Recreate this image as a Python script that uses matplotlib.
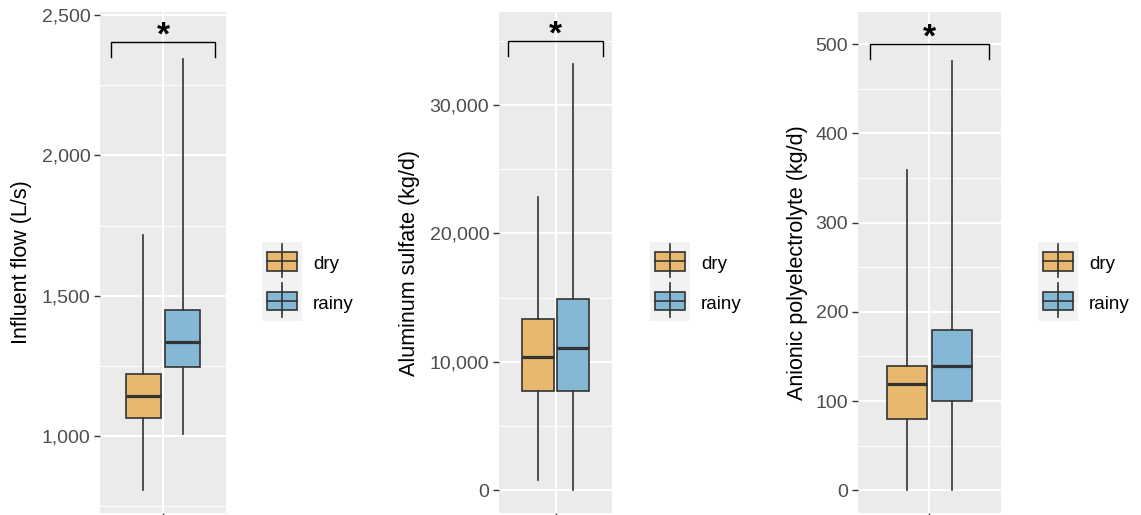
import matplotlib
matplotlib.use('Agg')
import matplotlib.pyplot as plt
from matplotlib.patches import Rectangle
from matplotlib.ticker import FuncFormatter, MultipleLocator, NullLocator

plt.rcParams['font.family'] = ['Liberation Sans', 'DejaVu Sans']

# ===== data =====
seasons = ['dry', 'rainy']
fill_colors = ['#E8B86E', '#85B8D5']

ylabels = ['Influent flow (L/s)', 'Aluminum sulfate (kg/d)',
           'Anionic polyelectrolyte (kg/d)']

# influent flow (L/s)
flow_whislo = [808, 1006]
flow_q1 = [1065, 1246]
flow_med = [1142, 1337]
flow_q3 = [1221, 1450]
flow_whishi = [1716, 2342]

# aluminum sulfate (kg/d)
alum_whislo = [800, 0]
alum_q1 = [7760, 7760]
alum_med = [10370, 11070]
alum_q3 = [13300, 14860]
alum_whishi = [22860, 33170]

# anionic polyelectrolyte (kg/d)
poly_whislo = [0, 0]
poly_q1 = [79.5, 100.3]
poly_med = [119, 139.6]
poly_q3 = [139.6, 179.5]
poly_whishi = [358.7, 480.6]

# significance bracket heights and label
bracket_y = [2405, 35010, 500]
sig_label = '*'

# ===== layout (pixels) =====
W, H = 1141, 515
def fx(px): return px / W
def fy(py): return 1 - py / H

panel_px = [(100, 226), (499, 612), (858, 1001)]
panel_top, panel_bot = 12, 513
ylims = [(726, 2511), (-1770, 37240), (-25.4, 535.9)]
major_step = [500, 10000, 100]
ylabel_x = [22, 409, 797]
key_left = [262, 650, 1038]

data = [
    (flow_whislo, flow_q1, flow_med, flow_q3, flow_whishi),
    (alum_whislo, alum_q1, alum_med, alum_q3, alum_whishi),
    (poly_whislo, poly_q1, poly_med, poly_q3, poly_whishi),
]

line_col = '#333333'
fig = plt.figure(figsize=(W / 100, H / 100), dpi=100)

for k in range(3):
    x0, x1 = panel_px[k]
    ax = fig.add_axes([fx(x0), fy(panel_bot), (x1 - x0) / W,
                       (panel_bot - panel_top) / H])
    ax.set_facecolor('#EBEBEB')
    for s in ax.spines.values():
        s.set_visible(False)

    wl, q1, md, q3, wh = data[k]
    stats = [dict(whislo=wl[i], q1=q1[i], med=md[i], q3=q3[i], whishi=wh[i],
                  label=seasons[i]) for i in range(len(seasons))]
    bp = ax.bxp(stats, positions=[1 - 0.1875, 1 + 0.1875], widths=0.3375,
                patch_artist=True, showcaps=False, showfliers=False,
                manage_ticks=False,
                boxprops=dict(edgecolor=line_col, linewidth=1.2),
                medianprops=dict(color=line_col, linewidth=2.3),
                whiskerprops=dict(color=line_col, linewidth=1.2))
    for patch, c in zip(bp['boxes'], fill_colors):
        patch.set_facecolor(c)

    ylo, yhi = ylims[k]
    ax.set_xlim(0.4, 1.6)
    ax.set_ylim(ylo, yhi)

    # significance bracket
    tip = bracket_y[k] - 0.03 * (yhi - ylo)
    ax.plot([0.5, 0.5, 1.5, 1.5], [tip, bracket_y[k], bracket_y[k], tip],
            color='black', lw=1.0, solid_joinstyle='miter')
    ax.annotate(sig_label, (1, bracket_y[k]), xytext=(0, -7),
                textcoords='offset points', ha='center', va='bottom',
                fontsize=24, fontweight='bold')

    # axes styling (ggplot grey)
    ax.yaxis.set_major_locator(MultipleLocator(major_step[k]))
    ax.yaxis.set_minor_locator(MultipleLocator(major_step[k] / 2))
    ax.yaxis.set_major_formatter(FuncFormatter(lambda v, p: f'{v:,.0f}'))
    ax.xaxis.set_minor_locator(NullLocator())
    ax.set_xticks([1])
    ax.set_xticklabels([''])
    ax.set_axisbelow(True)
    ax.grid(which='major', color='white', lw=1.4)
    ax.grid(which='minor', axis='y', color='white', lw=0.7)
    ax.tick_params(which='major', length=4, width=1, color=line_col,
                   labelcolor='#4D4D4D', labelsize=14, pad=3)
    ax.tick_params(which='minor', length=0)

    fig.text(fx(ylabel_x[k]), fy((panel_top + panel_bot) / 2), ylabels[k],
             rotation=90, ha='center', va='center', fontsize=15.5)

    # legend: grey key boxes with little boxplot glyphs
    kl = key_left[k]
    key_h = 39.5
    lax = fig.add_axes([fx(kl), fy(242 + 2 * key_h), 40 / W, 2 * key_h / H])
    lax.set_facecolor('#F2F2F2')
    for s in lax.spines.values():
        s.set_visible(False)
    lax.set_xticks([])
    lax.set_yticks([])
    lax.set_xlim(0, 40)
    lax.set_ylim(2 * key_h, 0)
    for i, lab in enumerate(seasons):
        top = i * key_h
        lax.plot([20, 20], [top + 1.5, top + 35], color=line_col, lw=1.2)
        lax.add_patch(Rectangle((5.3, top + 10), 29.4, 18.5,
                                facecolor=fill_colors[i], edgecolor=line_col,
                                lw=1.2))
        lax.plot([5.3, 34.7], [top + 19.3, top + 19.3], color=line_col, lw=1.2)
        fig.text(fx(kl + 51), fy(242 + top + key_h / 2 + 3), lab,
                 ha='left', va='center', fontsize=13.5, color='black')

fig.savefig('out.png', dpi=100)
